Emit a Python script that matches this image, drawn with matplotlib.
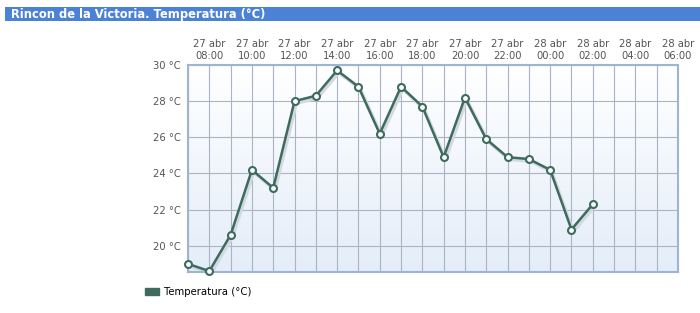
import matplotlib.pyplot as plt
import matplotlib.patches as mpatches
import numpy as np

# hourly readings from 27 abr 07:00
hours = list(range(20))
temps = [19.0, 18.6, 20.6, 24.2, 23.2, 28.0, 28.3, 29.7, 28.8, 26.2, 28.8, 27.7,
         24.9, 28.2, 25.9, 24.9, 24.8, 24.2, 20.9, 22.3]
tick_hours = list(range(1, 24, 2))
tick_labels = ['27 abr\n08:00', '27 abr\n10:00', '27 abr\n12:00', '27 abr\n14:00',
               '27 abr\n16:00', '27 abr\n18:00', '27 abr\n20:00', '27 abr\n22:00',
               '28 abr\n00:00', '28 abr\n02:00', '28 abr\n04:00', '28 abr\n06:00']
y_ticks = [20, 22, 24, 26, 28, 30]
title = 'Rincon de la Victoria. Temperatura (°C)'
series_name = 'Temperatura (°C)'

line_color = '#3d6b5d'
W, H = 700, 313
fig = plt.figure(figsize=(7, 3.13), dpi=100)

# title bar
bar = fig.add_axes([5 / W, 1 - 21 / H, 695 / W, 14 / H])
bar.set_facecolor('#4b82d6')
bar.set_xticks([])
bar.set_yticks([])
for s in bar.spines.values():
    s.set_visible(False)
fig.text(11 / W, 1 - 14.5 / H, title, color='white', fontsize=8.3,
         fontweight='bold', va='center', ha='left')

ax = fig.add_axes([188 / W, 1 - 272 / H, 490 / W, 207 / H])
ymin, ymax = 18.55, 30.0
ax.set_xlim(0, 23)
ax.set_ylim(ymin, ymax)

grad = np.linspace(0, 1, 256).reshape(-1, 1)
ax.imshow(grad, extent=[0, 23, ymin, ymax], aspect='auto', origin='upper',
          cmap=plt.matplotlib.colors.LinearSegmentedColormap.from_list(
              'bg', ['#ffffff', '#e4edf9']), zorder=0)

ax.set_xticks(range(24), minor=True)
ax.set_xticks(tick_hours)
ax.set_xticklabels(tick_labels)
ax.set_yticks(y_ticks)
ax.set_yticklabels([f'{v} °C' for v in y_ticks])
ax.xaxis.tick_top()
ax.grid(True, which='both', axis='x', color='#aab4c2', lw=0.8, zorder=1)
ax.grid(True, which='major', axis='y', color='#aab4c2', lw=0.8, zorder=1)
ax.tick_params(axis='both', which='both', length=0, colors='#555555',
               labelsize=7.2, pad=5)
ax.tick_params(axis='x', pad=3)
for s in ax.spines.values():
    s.set_color('#9db5d3')
    s.set_linewidth(1.5)

# soft shadow then line
ax.plot(np.array(hours) + 0.08, np.array(temps) - 0.12, color='#d3d9e0',
        lw=2.5, zorder=2, solid_joinstyle='round')
ax.plot(hours, temps, color=line_color, lw=1.8, marker='o', ms=5,
        mfc='white', mec=line_color, mew=1.5, zorder=3, clip_on=False)

handle = mpatches.Patch(color=line_color, label=series_name)
fig.legend(handles=[handle], loc='center left', bbox_to_anchor=(145 / W, 1 - 292 / H),
           frameon=False, fontsize=7.3, handlelength=1.4, handleheight=0.7,
           handletextpad=0.5, borderaxespad=0, borderpad=0)

fig.savefig('out.png', dpi=100)
